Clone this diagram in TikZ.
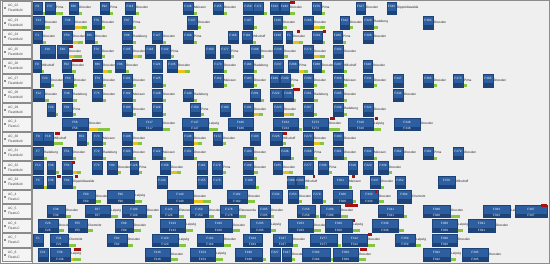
\documentclass[tikz,border=0pt]{standalone}
\usepackage{fontspec}
\setmainfont{Liberation Sans}
\definecolor{bl}{HTML}{2D5E9F}
\definecolor{bld}{HTML}{1E4379}
\definecolor{grn}{HTML}{86C540}
\definecolor{ylw}{HTML}{E8C21A}
\definecolor{rd}{HTML}{A80F0F}
\definecolor{bg}{HTML}{EFEFEF}
\definecolor{cellbg}{HTML}{F4F4F4}
\definecolor{frame}{HTML}{8C8C8C}
\tikzset{
  fbox/.style={fill=bl, draw=bld, line width=0.2pt, inner sep=0pt, anchor=north west, minimum height=12.5pt},
  flab/.style={text=white, font=\fontsize{3.1}{3.1}\selectfont, inner sep=0pt},
  city/.style={text=black!85, font=\fontsize{3.2}{3.2}\selectfont, inner sep=0pt, anchor=west},
  lcell/.style={fill=cellbg, draw=frame, line width=0.3pt, anchor=north west, minimum width=29pt, minimum height=13.5pt, inner sep=0pt},
  ltxt/.style={text=black!75, font=\fontsize{3.3}{3.3}\selectfont, inner sep=0pt, anchor=west},
}
\newcommand\FL[8]{%
  \pgfmathsetmacro\myRT{1+14.5*#1}%
  \pgfmathsetmacro\myXR{#2+#3}%
  \pgfmathsetmacro\myXC{#2+#3/2}%
  \pgfmathsetmacro\myXY{\myXR+#7}%
  \pgfmathsetmacro\myXG{\myXY+#8}%
  \fill[grn] (\myXR-1,\myRT+11) rectangle (\myXG,\myRT+14);
  \fill[ylw] (\myXR,\myRT+11) rectangle (\myXY,\myRT+14);
  \node[fbox, minimum width=#3pt] (f#1-#2) at (#2,\myRT+1) {};
  \fill[bld] (#2,\myRT+10) rectangle (\myXR,\myRT+13.5);
  \node[flab] (f#1-#2-t) at (\myXC,\myRT+5.2) {#4};
  \node[flab] (f#1-#2-b) at (\myXC,\myRT+11.8) {#5};
  \node[city] (f#1-#2-c) at (\myXR+0.8,\myRT+6.5) {#6};
}
\newcommand\RD[3]{%
  \pgfmathsetmacro\myRT{1+14.5*#1}%
  \fill[rd] (#2,\myRT+0.3) rectangle (#3,\myRT+3.5);
}
\begin{document}
\begin{tikzpicture}[x=1pt,y=-1pt]
\useasboundingbox (0,0) rectangle (550,264);
\fill[white] (0,0) rectangle (550,264);
\fill[bg] (32,1) rectangle (549,263);
\draw[frame, line width=0.4pt] (0.5,0.5) rectangle (549.5,263.5);
\draw[frame, line width=0.4pt] (32,0.5) -- (32,263.5);
% row labels
\foreach \i/\a/\b in {0/AC\_22/FleetMulti,1/AC\_23/FleetMulti,2/AC\_24/FleetMulti,3/AC\_25/FleetMulti,4/AC\_26/FleetMulti,5/AC\_27/FleetMulti,6/AC\_28/FleetMulti,7/AC\_29/FleetMulti,8/AC\_3/FleetLC,9/AC\_30/FleetMulti,10/AC\_31/FleetMulti,11/AC\_32/FleetMulti,12/AC\_33/FleetMulti,13/AC\_4/FleetLC,14/AC\_5/FleetLC,15/AC\_6/FleetLC,16/AC\_7/FleetLC,17/AC\_8/FleetLC}{
  \pgfmathsetmacro\myRT{1+14.5*\i}
  \node[lcell] (r\i) at (2,\myRT+0.5) {};
  \fill[black!45] (3.5,\myRT+6.3) rectangle (5.5,\myRT+8.3);
  \node[ltxt] (r\i-a) at (8,\myRT+5) {\a};
  \node[ltxt] (r\i-b) at (8,\myRT+9.6) {\b};
}
% row 0
\FL{0}{33}{9}{F6}{}{}{0}{4}
\FL{0}{45}{10}{F37}{}{Pirna}{0}{8}
\FL{0}{69}{9}{F66}{}{Dresden}{0}{4}
\FL{0}{100}{9}{F92}{}{Pirna}{0}{4}
\FL{0}{125}{10}{F113}{}{Dresden}{0}{4}
\FL{0}{183}{10}{F146}{}{Meissen}{0}{4}
\FL{0}{213}{10}{F155}{}{Dresden}{0}{4}
\FL{0}{243}{10}{F159}{}{}{0}{0}
\FL{0}{253}{10}{F171}{}{}{0}{4}
\FL{0}{270}{9}{F222}{}{}{0}{0}
\FL{0}{280}{9}{F242}{}{Dresden}{0}{6}
\RD{0}{290}{295}
\FL{0}{312}{9}{F276}{}{Pirna}{0}{4}
\FL{0}{356}{9}{F327}{}{Dresden}{0}{0}
\FL{0}{387}{9}{F342}{}{Dippoldiswalde}{0}{0}
% row 1
\FL{1}{33}{11}{F13}{}{Dresden}{0}{6}
\FL{1}{62}{12}{F46}{}{Dresden}{8}{5}
\FL{1}{92}{9}{F76}{}{Dresden}{0}{4}
\FL{1}{122}{10}{F97}{}{Pirna}{0}{4}
\FL{1}{187}{10}{F137}{}{Dresden}{0}{4}
\FL{1}{243}{10}{F187}{}{}{0}{4}
\FL{1}{273}{9}{F236}{}{Dresden}{0}{5}
\FL{1}{303}{10}{F266}{}{Dresden}{7}{5}
\FL{1}{340}{9}{F312}{}{Dresden}{0}{4}
\FL{1}{363}{10}{F329}{}{Radeberg}{0}{5}
\FL{1}{423}{10}{F364}{}{Dresden}{0}{0}
% row 2
\FL{2}{33}{9}{F1}{}{Dresden}{0}{4}
\FL{2}{62}{10}{F50}{}{Dresden}{6}{5}
\FL{2}{85}{9}{F65}{}{Dresden}{0}{4}
\FL{2}{122}{10}{F98}{}{Radeberg}{0}{4}
\FL{2}{152}{10}{F127}{}{Dresden}{0}{4}
\FL{2}{183}{10}{F168}{}{Pirna}{0}{4}
\FL{2}{228}{10}{F166}{}{}{0}{0}
\FL{2}{242}{10}{F181}{}{Wilsdruff}{0}{4}
\FL{2}{273}{9}{F238}{}{}{0}{0}
\FL{2}{286}{6}{F1}{}{Dresden}{7}{4}
\RD{2}{297}{300}
\FL{2}{312}{10}{F261}{}{}{0}{3}
\RD{2}{323}{326}
\FL{2}{333}{9}{F266}{}{Pirna}{0}{4}
\FL{2}{363}{10}{F308}{}{Dresden}{0}{0}
% row 3
\FL{3}{40}{15}{F16}{}{}{0}{0}
\FL{3}{57}{11}{F40}{}{Dresden}{6}{8}
\RD{3}{69}{73}
\FL{3}{92}{9}{F70}{}{Dresden}{0}{4}
\FL{3}{122}{10}{F105}{}{Dresden}{6}{4}
\FL{3}{145}{10}{F118}{}{}{0}{0}
\FL{3}{160}{10}{F132}{}{Pirna}{0}{4}
\FL{3}{205}{10}{F150}{}{}{0}{0}
\FL{3}{220}{10}{F177}{}{Pirna}{0}{4}
\FL{3}{250}{10}{F208}{}{Dresden}{0}{4}
\FL{3}{273}{10}{F239}{}{Dresden}{0}{5}
\FL{3}{303}{10}{F274}{}{Dresden}{7}{5}
\FL{3}{333}{10}{F302}{}{Dresden}{0}{0}
% row 4
\FL{4}{33}{8}{F9}{}{Wilsdruff}{0}{3}
\FL{4}{62}{9}{F52}{}{Dresden}{0}{5}
\RD{4}{72}{83}
\FL{4}{93}{9}{F86}{}{Dresden}{6}{4}
\FL{4}{115}{10}{F96}{}{Dresden}{0}{4}
\FL{4}{152}{10}{F121}{}{}{0}{0}
\FL{4}{167}{10}{F135}{}{Dresden}{8}{5}
\FL{4}{213}{10}{F173}{}{Dresden}{0}{4}
\FL{4}{243}{10}{F184}{}{Radeberg}{0}{4}
\FL{4}{273}{10}{F237}{}{}{0}{0}
\FL{4}{288}{10}{F268}{}{Pirna}{6}{4}
\FL{4}{312}{9}{F288}{}{Dresden}{0}{4}
\FL{4}{333}{10}{F297}{}{Wilsdruff}{0}{4}
\FL{4}{363}{9}{F328}{}{Dresden}{0}{0}
% row 5
\FL{5}{40}{10}{F23}{}{Dresden}{0}{4}
\FL{5}{63}{10}{F60}{}{Dresden}{0}{4}
\FL{5}{93}{9}{F79}{}{Dresden}{0}{4}
\FL{5}{122}{10}{F101}{}{Dresden}{0}{4}
\FL{5}{152}{10}{F125}{}{}{0}{4}
\FL{5}{213}{10}{F162}{}{Meissen}{0}{4}
\FL{5}{243}{10}{F183}{}{Dresden}{0}{4}
\FL{5}{270}{9}{F236}{}{}{0}{0}
\FL{5}{280}{10}{F240}{}{Pirna}{0}{4}
\FL{5}{303}{10}{F290}{}{Dresden}{0}{4}
\FL{5}{333}{10}{F309}{}{Meissen}{0}{4}
\FL{5}{363}{10}{F331}{}{Dresden}{0}{4}
\FL{5}{393}{10}{F347}{}{}{0}{0}
\FL{5}{423}{10}{F365}{}{Dresden}{0}{4}
\FL{5}{453}{10}{F373}{}{Pirna}{0}{4}
\FL{5}{483}{10}{F385}{}{Dresden}{0}{0}
% row 6
\FL{6}{33}{11}{F12}{}{Dresden}{0}{5}
\FL{6}{62}{10}{F48}{}{Radeberg}{0}{5}
\FL{6}{92}{10}{F75}{}{Dresden}{0}{4}
\FL{6}{122}{10}{F102}{}{Meissen}{0}{4}
\FL{6}{152}{10}{F128}{}{Dresden}{0}{4}
\FL{6}{183}{10}{F140}{}{Radeberg}{0}{4}
\FL{6}{250}{10}{F201}{}{}{0}{4}
\FL{6}{270}{12}{F222}{}{}{0}{0}
\FL{6}{283}{10}{F246}{}{}{0}{3}
\RD{6}{293}{300}
\FL{6}{303}{10}{F261}{}{Radeberg}{0}{5}
\FL{6}{333}{10}{F295}{}{Dresden}{0}{4}
\FL{6}{393}{10}{F344}{}{Dresden}{0}{0}
% row 7
\FL{7}{47}{8}{F28}{}{}{0}{3}
\FL{7}{62}{10}{F61}{}{Pirna}{0}{4}
\FL{7}{122}{10}{F100}{}{Dresden}{0}{4}
\FL{7}{152}{10}{F129}{}{}{0}{4}
\FL{7}{190}{10}{F150}{}{Pirna}{0}{4}
\FL{7}{220}{10}{F180}{}{}{0}{0}
\FL{7}{243}{10}{F191}{}{Dresden}{6}{4}
\FL{7}{273}{10}{F223}{}{Dresden}{7}{4}
\FL{7}{303}{10}{F267}{}{}{0}{4}
\FL{7}{333}{10}{F299}{}{Radeberg}{0}{4}
\FL{7}{363}{10}{F324}{}{Dresden}{0}{0}
% row 8 (LC)
\FL{8}{62}{26}{F58}{F58}{Dresden}{10}{12}
\FL{8}{137}{25}{F117}{F117}{Dresden}{0}{8}
\FL{8}{182}{26}{F147}{F147}{Leipzig}{0}{10}
\FL{8}{228}{25}{F186}{F186}{}{0}{0}
\FL{8}{273}{25}{F234}{F234}{}{0}{4}
\FL{8}{303}{25}{F273}{F273}{Dresden}{0}{12}
\RD{8}{330}{335}
\FL{8}{348}{25}{F316}{F316}{Leipzig}{0}{8}
\RD{8}{375}{378}
\FL{8}{394}{26}{F348}{F348}{Dresden}{0}{0}
% row 9
\FL{9}{33}{10}{F8}{}{}{0}{0}
\FL{9}{43}{10}{F18}{}{Wilsdruff}{0}{10}
\RD{9}{55}{60}
\FL{9}{77}{9}{F64}{}{}{0}{3}
\FL{9}{92}{10}{F73}{}{Meissen}{0}{4}
\FL{9}{122}{10}{F108}{}{Dresden}{6}{4}
\FL{9}{183}{10}{F148}{}{Dresden}{5}{4}
\FL{9}{213}{9}{F172}{}{Dresden}{0}{4}
\FL{9}{250}{10}{F193}{}{}{0}{0}
\FL{9}{270}{12}{F226}{}{Wilsdruff}{0}{4}
\RD{9}{283}{287}
\FL{9}{303}{10}{F270}{}{Dresden}{7}{4}
\FL{9}{333}{10}{F300}{}{Dresden}{0}{0}
% row 10
\FL{10}{33}{10}{F7}{}{Radeberg}{0}{4}
\FL{10}{62}{10}{F51}{}{Dresden}{0}{4}
\FL{10}{92}{10}{F72}{}{Radeberg}{0}{4}
\FL{10}{122}{10}{F103}{}{Dresden}{0}{4}
\FL{10}{152}{10}{F122}{}{Meissen}{0}{4}
\FL{10}{183}{10}{F151}{}{Dresden}{0}{4}
\FL{10}{243}{10}{F190}{}{Dresden}{0}{4}
\FL{10}{280}{10}{F246}{}{}{0}{4}
\FL{10}{303}{10}{F268}{}{Pirna}{0}{4}
\FL{10}{333}{10}{F301}{}{Dresden}{0}{4}
\FL{10}{363}{10}{F332}{}{Meissen}{0}{4}
\FL{10}{393}{10}{F362}{}{Dresden}{0}{0}
\FL{10}{423}{10}{F361}{}{Pirna}{0}{4}
\FL{10}{453}{10}{F379}{}{Dresden}{0}{0}
% row 11
\FL{11}{33}{10}{F13}{}{}{0}{0}
\FL{11}{47}{8}{F38}{}{}{0}{4}
\FL{11}{62}{10}{F54}{}{}{5}{4}
\RD{11}{72}{75}
\FL{11}{92}{10}{F73}{}{}{0}{0}
\FL{11}{107}{10}{F90}{}{Dresden}{0}{4}
\FL{11}{130}{8}{F126}{}{Pirna}{0}{4}
\FL{11}{160}{10}{F158}{}{Dresden}{7}{4}
\FL{11}{197}{10}{F161}{}{}{0}{0}
\FL{11}{212}{10}{F179}{}{Pirna}{0}{4}
\FL{11}{243}{10}{F199}{}{Dresden}{0}{5}
\FL{11}{273}{9}{F235}{}{Dresden}{7}{4}
\FL{11}{303}{10}{F277}{}{}{0}{0}
\FL{11}{318}{10}{F296}{}{Pirna}{0}{4}
\FL{11}{348}{9}{F318}{}{}{0}{0}
\FL{11}{363}{10}{F320}{}{}{0}{0}
\FL{11}{378}{10}{F339}{}{Dresden}{0}{4}
% row 12
\FL{12}{33}{10}{F5}{}{}{3}{3}
\FL{12}{47}{8}{F36}{}{}{0}{0}
\RD{12}{57}{61}
\FL{12}{62}{10}{F64}{}{Dippoldiswalde}{0}{4}
\RD{12}{75}{78}
\FL{12}{157}{10}{F130}{}{}{0}{0}
\FL{12}{197}{10}{F155}{}{}{0}{0}
\FL{12}{212}{10}{F176}{}{}{0}{0}
\FL{12}{243}{12}{F189}{}{}{0}{4}
\FL{12}{287}{8}{F288}{}{}{0}{0}
\FL{12}{296}{8}{F293}{}{Wilsdruff}{0}{4}
\RD{12}{313}{315}
\FL{12}{333}{15}{F301}{}{Meissen}{0}{4}
\RD{12}{352}{355}
\FL{12}{370}{10}{F337}{}{Dresden}{0}{4}
\FL{12}{395}{10}{F352}{}{}{0}{0}
\FL{12}{438}{17}{F370}{}{Wilsdruff}{0}{0}
% row 13 (LC)
\FL{13}{77}{18}{F60}{F60}{Dresden}{0}{6}
\FL{13}{107}{27}{F96}{F96}{Leipzig}{0}{8}
\FL{13}{167}{26}{F140}{F140}{Dresden}{10}{8}
\FL{13}{227}{20}{F182}{F182}{Dresden}{0}{8}
\FL{13}{270}{12}{F232}{}{}{0}{0}
\FL{13}{288}{10}{F253}{}{Dresden}{0}{4}
\FL{13}{312}{10}{F279}{}{}{0}{4}
\FL{13}{333}{19}{F306}{F306}{}{0}{4}
\FL{13}{360}{18}{F333}{F333}{Dresden}{0}{6}
\RD{13}{375}{377}
\FL{13}{397}{14}{F364}{}{Chemnitz}{0}{0}
% row 14 (LC)
\FL{14}{47}{18}{F38}{F38}{Dresden}{0}{6}
\FL{14}{85}{25}{F67}{F67}{Leipzig}{0}{8}
\FL{14}{122}{24}{F109}{F109}{Dresden}{0}{6}
\FL{14}{160}{18}{F124}{F124}{Elsterwerda}{0}{6}
\FL{14}{190}{18}{F150}{F150}{Dresden}{0}{6}
\FL{14}{220}{18}{F178}{F178}{Elsterwerda}{0}{8}
\FL{14}{258}{12}{F205}{F205}{Dresden}{0}{4}
\FL{14}{297}{18}{F258}{F258}{}{0}{4}
\FL{14}{320}{20}{F286}{F286}{Dresden}{0}{8}
\RD{14}{345}{358}
\FL{14}{378}{25}{F341}{F341}{}{0}{4}
\FL{14}{423}{27}{F388}{F388}{Dresden}{0}{10}
\FL{14}{483}{27}{F393}{F393}{Leipzig}{0}{0}
\FL{14}{515}{32}{F397}{F397}{}{0}{0}
\RD{14}{541}{547}
% row 15 (LC)
\FL{15}{38}{20}{F26}{F26}{Dresden}{0}{6}
\FL{15}{68}{19}{F55}{F55}{Chemnitz}{0}{6}
\FL{15}{115}{18}{F89}{F89}{Dresden}{0}{8}
\FL{15}{160}{25}{F133}{F133}{Leipzig}{0}{8}
\FL{15}{205}{27}{F166}{F166}{Dresden}{0}{8}
\FL{15}{250}{20}{F205}{F205}{Leipzig}{0}{6}
\FL{15}{288}{25}{F263}{F263}{Dresden}{0}{8}
\FL{15}{325}{27}{F300}{F300}{Leipzig}{0}{8}
\RD{15}{353}{355}
\FL{15}{372}{26}{F336}{F336}{}{0}{6}
\FL{15}{432}{25}{F389}{F389}{Leipzig}{0}{6}
\FL{15}{468}{27}{F391}{F391}{Dresden}{0}{0}
% row 16 (LC)
\FL{16}{33}{10}{F1}{}{}{0}{0}
\FL{16}{50}{18}{F31}{F21}{Chemnitz}{0}{8}
\FL{16}{107}{20}{F82}{F82}{Dresden}{0}{6}
\FL{16}{152}{26}{F120}{F120}{Leipzig}{0}{8}
\FL{16}{197}{26}{F162}{F162}{Dresden}{0}{8}
\FL{16}{243}{19}{F184}{F184}{}{0}{0}
\FL{16}{273}{19}{F237}{F237}{Dresden}{0}{6}
\FL{16}{310}{27}{F277}{F277}{}{0}{4}
\FL{16}{342}{25}{F312}{F312}{Dresden}{0}{8}
\RD{16}{368}{372}
\FL{16}{395}{20}{F359}{F359}{Leipzig}{0}{6}
\FL{16}{432}{25}{F390}{F390}{Dresden}{0}{0}
% row 17 (LC)
\FL{17}{38}{10}{F21}{}{}{0}{0}
\FL{17}{50}{20}{F36}{F136}{Leipzig}{3}{8}
\RD{17}{74}{81}
\FL{17}{145}{25}{F116}{F116}{Dresden}{0}{8}
\FL{17}{190}{25}{F154}{F154}{Leipzig}{0}{8}
\FL{17}{235}{27}{F188}{F188}{}{0}{4}
\FL{17}{270}{10}{F227}{}{}{0}{0}
\FL{17}{282}{9}{F247}{}{Dresden}{0}{4}
\FL{17}{302}{28}{F284}{F284}{}{0}{4}
\FL{17}{333}{25}{F309}{F309}{Dresden}{0}{8}
\RD{17}{360}{367}
\FL{17}{423}{27}{F392}{F392}{Leipzig}{0}{6}
\FL{17}{462}{26}{F395}{F395}{Dresden}{0}{0}
\end{tikzpicture}
\end{document}
